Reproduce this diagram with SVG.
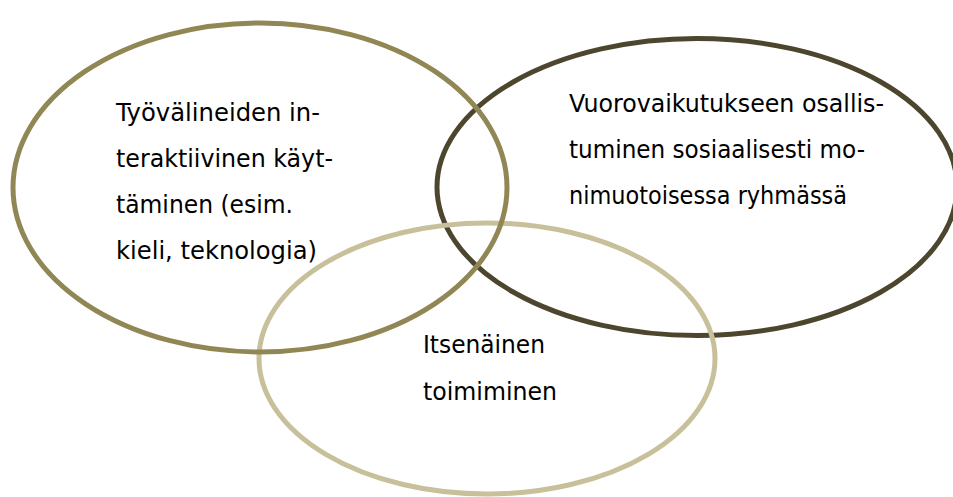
<svg xmlns="http://www.w3.org/2000/svg" width="953" height="497" viewBox="0 0 953 497">
  <style>
    .ring { fill: none; stroke-width: 5; }
    .label { font-family: "DejaVu Sans", "Liberation Sans", sans-serif; font-size: 25px; font-stretch: condensed; fill: #000; }
  </style>
  <rect width="953" height="497" fill="#ffffff"/>

  <!-- social interaction circle (right) -->
  <g id="interaction">
    <ellipse class="ring" cx="697" cy="187" rx="260" ry="148.5" stroke="#4D462F"/>
    <text class="label">
      <tspan x="569" y="112" textLength="315" lengthAdjust="spacingAndGlyphs">Vuorovaikutukseen osallis-</tspan>
      <tspan x="569" y="158" textLength="296" lengthAdjust="spacingAndGlyphs">tuminen sosiaalisesti mo-</tspan>
      <tspan x="569" y="204" textLength="278" lengthAdjust="spacingAndGlyphs">nimuotoisessa ryhmässä</tspan>
    </text>
  </g>

  <!-- autonomous action circle (bottom) -->
  <g id="autonomy">
    <ellipse class="ring" cx="487" cy="358.5" rx="228" ry="135.5" stroke="#C8C09B"/>
    <text class="label">
      <tspan x="423" y="353" textLength="122" lengthAdjust="spacingAndGlyphs">Itsenäinen</tspan>
      <tspan x="423" y="400" textLength="134" lengthAdjust="spacingAndGlyphs">toimiminen</tspan>
    </text>
  </g>

  <!-- interactive tool use circle (left) -->
  <g id="tools">
    <ellipse class="ring" cx="260" cy="187.5" rx="247" ry="164.5" stroke="#918755"/>
    <text class="label">
      <tspan x="116" y="121" textLength="204" lengthAdjust="spacingAndGlyphs">Työvälineiden in-</tspan>
      <tspan x="116" y="167" textLength="217" lengthAdjust="spacingAndGlyphs">teraktiivinen käyt-</tspan>
      <tspan x="116" y="213" textLength="177" lengthAdjust="spacingAndGlyphs">täminen (esim.</tspan>
      <tspan x="116" y="259" textLength="201" lengthAdjust="spacingAndGlyphs">kieli, teknologia)</tspan>
    </text>
  </g>

  <g id="connectors"/>
</svg>
